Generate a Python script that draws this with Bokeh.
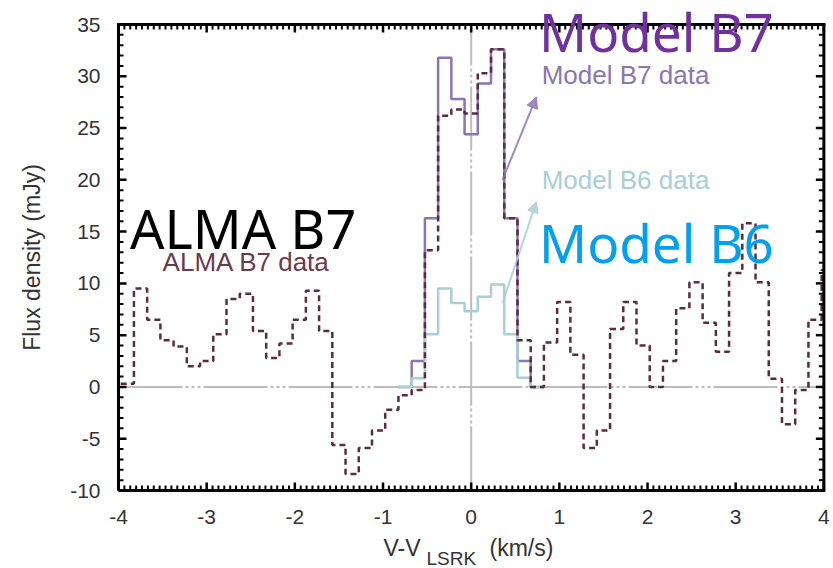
import numpy as np
from bokeh.plotting import figure
from bokeh.models import (Label, Arrow, NormalHead, SingleIntervalTicker,
                          Range1d, PrintfTickFormatter)
from bokeh.embed import file_html
from bokeh.resources import INLINE

# ---------------- data ----------------
channel_width = 0.15            # km/s
alma_first_center = -3.90       # km/s
alma_b7 = [0.3, 9.5, 6.5, 4.5, 3.9, 2.0, 2.5, 5.1, 8.5, 9.0, 5.4, 2.8, 4.2,
           6.5, 9.3, 5.4, -5.6, -8.4, -5.9, -4.2, -2.2, -0.8, -0.3, 13.2,
           26.2, 26.8, 26.4, 30.3, 32.6, 16.3, 4.5, 0.0, 4.3, 8.2, 3.1, -5.9,
           -4.2, 5.6, 8.2, 4.0, 0.0, 2.5, 7.6, 10.1, 6.2, 3.4, 11.0, 15.8,
           10.1, 0.8, -3.6, -0.3, 6.5, 11.3]
model_first_center = -0.75
model_b7 = [0.0, 2.5, 16.3, 31.8, 27.8, 24.4, 29.3, 32.6, 16.3, 2.5, 0.0]
model_b6 = [0.0, 0.85, 5.1, 9.5, 8.1, 7.3, 8.7, 9.9, 5.1, 0.9, 0.0]

x_min, x_max = -4, 4
y_min, y_max = -10, 35
x_ticks_major, x_minor_per_major = 1, 15
y_ticks_major, y_minor_per_major = 5, 5

C_ALMA = "#5c2b3e"
C_M7 = "#8a76b2"
C_M6 = "#a8ced8"

# ---------------- geometry ----------------
CANVAS_W, CANVAS_H = 832, 567
LEFT_PX, TOP_PX = 118, 24        # pixel position of x_min and of y_max
PX_X, PX_Y = 88.17, 10.3556      # pixels per km/s and per mJy
x_lo = x_min - LEFT_PX / PX_X
x_hi = x_lo + CANVAS_W / PX_X
y_hi = y_max + TOP_PX / PX_Y
y_lo = y_hi - CANVAS_H / PX_Y


def step_path(first_center, vals):
    vals = np.asarray(vals, dtype=float)
    left = first_center - channel_width / 2 + channel_width * np.arange(len(vals))
    xs = np.column_stack([left, left + channel_width]).ravel()
    xs = np.clip(xs, x_min, x_max)      # keep the histogram inside the box
    ys = np.repeat(vals, 2)
    return xs, ys


p = figure(frame_width=CANVAS_W, frame_height=CANVAS_H,
           x_range=Range1d(x_lo, x_hi), y_range=Range1d(y_lo, y_hi),
           output_backend="svg", toolbar_location=None, min_border=0,
           background_fill_color="white", border_fill_color="white")
p.title.visible = False
p.outline_line_color = None
p.xgrid.visible = False
p.ygrid.visible = False

xa = p.xaxis[0]
ya = p.yaxis[0]
xa.ticker = SingleIntervalTicker(interval=x_ticks_major, num_minor_ticks=x_minor_per_major)
ya.ticker = SingleIntervalTicker(interval=y_ticks_major, num_minor_ticks=y_minor_per_major)
for ax in (xa, ya):
    ax.axis_line_color = "black"
    ax.axis_line_width = 3
    ax.major_tick_in = 0
    ax.major_tick_out = 0
    ax.minor_tick_in = 0
    ax.minor_tick_out = 0
    ax.major_tick_line_color = None
    ax.minor_tick_line_color = None
    ax.major_label_text_font = "Liberation Sans"
    ax.major_label_text_font_size = "21px"
    ax.major_label_text_color = "#333333"
    ax.formatter = PrintfTickFormatter(format="%d")
xa.fixed_location = y_min
xa.bounds = (x_min, x_max)
ya.fixed_location = x_min
ya.bounds = (y_min, y_max)
xa.major_label_standoff = 19
ya.major_label_standoff = 18
ya.axis_label = "Flux density (mJy)"
ya.axis_label_text_font = "Liberation Sans"
ya.axis_label_text_font_size = "23px"
ya.axis_label_text_font_style = "normal"
ya.axis_label_text_color = "#333333"
ya.axis_label_standoff = 22

# zero reference lines
dash = "64 3 3 3 3 3 3 3"
p.segment(x0=[x_min, 0], y0=[0, y_min], x1=[x_max, 0], y1=[0, y_max],
          line_color="#bdbdbd", line_width=2, line_dash=dash)

# histograms
xs, ys = step_path(model_first_center, model_b7)
p.line(xs, ys, line_color=C_M7, line_width=2.5)
xs, ys = step_path(model_first_center, model_b6)
p.line(xs, ys, line_color=C_M6, line_width=2.5)
xs, ys = step_path(alma_first_center, alma_b7)
p.line(xs, ys, line_color=C_ALMA, line_width=2.5, line_dash="6 4")

# top and right borders of the box
p.segment(x0=[x_min, x_max], y0=[y_max, y_min], x1=[x_max, x_max], y1=[y_max, y_max],
          line_color="black", line_width=3, line_cap="square")

# inward ticks on all four sides
nx = int(round((x_max - x_min) / x_ticks_major * x_minor_per_major))
ix = np.arange(nx + 1)
x_all = x_min + ix * x_ticks_major / x_minor_per_major
ny = int(round((y_max - y_min) / y_ticks_major * y_minor_per_major))
iy = np.arange(ny + 1)
y_all = y_min + iy * y_ticks_major / y_minor_per_major

for is_major, length_px, width in ((True, 8, 2.5), (False, 5, 2)):
    tx = x_all[(ix % x_minor_per_major == 0) == is_major]
    ty = y_all[(iy % y_minor_per_major == 0) == is_major]
    ly = length_px / PX_Y
    lx = length_px / PX_X
    x0 = np.concatenate([tx, tx, np.full(len(ty), x_min), np.full(len(ty), x_max)])
    x1 = np.concatenate([tx, tx, np.full(len(ty), x_min + lx), np.full(len(ty), x_max - lx)])
    y0 = np.concatenate([np.full(len(tx), y_min), np.full(len(tx), y_max), ty, ty])
    y1 = np.concatenate([np.full(len(tx), y_min + ly), np.full(len(tx), y_max - ly), ty, ty])
    p.segment(x0=x0, y0=y0, x1=x1, y1=y1, line_color="black", line_width=width)

# arrows
p.add_layout(Arrow(end=NormalHead(size=11, fill_color=C_M7, line_color=C_M7, fill_alpha=0.85, line_alpha=0.85),
                   x_start=0.355, y_start=20.0, x_end=0.74, y_end=28.0,
                   line_color=C_M7, line_width=2, line_alpha=0.85))
p.add_layout(Arrow(end=NormalHead(size=11, fill_color=C_M6, line_color=C_M6, fill_alpha=0.85, line_alpha=0.85),
                   x_start=0.355, y_start=8.1, x_end=0.74, y_end=17.9,
                   line_color=C_M6, line_width=2, line_alpha=0.85))


# texts (y given is baseline; SVG renders alphabetic like middle, compensate)
def add_label(x, y, text, color, size_px, font):
    shift = 0.38 * size_px / PX_Y
    p.add_layout(Label(x=x, y=y + shift, text=text, text_color=color,
                       text_font=font, text_font_size=f"{size_px}px",
                       text_baseline="alphabetic", text_align="left"))


add_label(-3.87, 13.4, "ALMA B7", "black", 54, "Noto Sans")
add_label(-3.50, 11.15, "ALMA B7 data", "#6a3a4e", 26, "Liberation Sans")
add_label(0.77, 32.4, "Model B7", "#7030a0", 53, "Noto Sans")
add_label(0.80, 29.2, "Model B7 data", C_M7, 26, "Liberation Sans")
add_label(0.80, 19.0, "Model B6 data", C_M6, 26, "Liberation Sans")
add_label(0.77, 12.05, "Model B6", "#02a0ef", 53, "Noto Sans")

# x-axis title with subscript
add_label(-0.994, -16.37, "V-V", "#333333", 23, "Liberation Sans")
add_label(-0.507, -17.30, "LSRK", "#333333", 19, "Liberation Sans")
add_label(0.208, -16.37, "(km/s)", "#333333", 23, "Liberation Sans")

open("out.html", "w").write(file_html(p, INLINE))
